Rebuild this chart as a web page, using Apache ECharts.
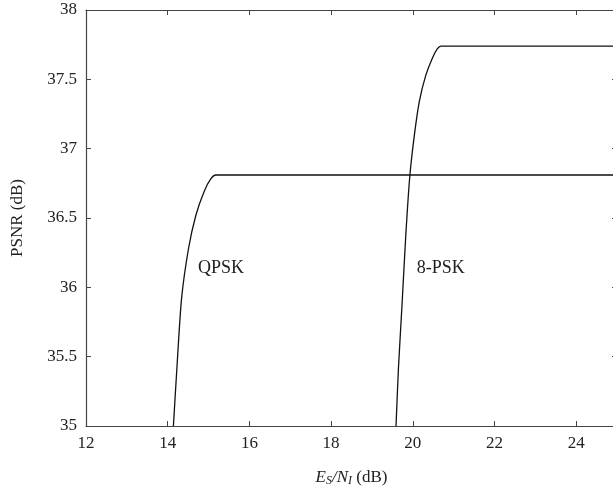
<!DOCTYPE html>
<html>
<head>
<meta charset="utf-8">
<script src="https://cdn.jsdelivr.net/npm/echarts@6/dist/echarts.min.js"></script>
<style>
  html, body { margin: 0; padding: 0; background: #fff; }
  #chart { width: 613px; height: 492px; }
</style>
</head>
<body>
<div id="chart"></div>
<script>
// QPSK curve, [Es/NI, PSNR]
var qpsk = [
  [14.14, 35.0], [14.23, 35.44], [14.34, 35.92], [14.51, 36.28],
  [14.69, 36.52], [14.89, 36.69], [15.05, 36.78], [15.18, 36.81], [25, 36.81]
];
// 8-PSK curve
var psk8 = [
  [19.59, 35.0], [19.65, 35.42], [19.74, 35.89], [19.83, 36.38],
  [19.93, 36.81], [20.04, 37.10], [20.16, 37.34], [20.32, 37.53],
  [20.49, 37.66], [20.60, 37.72], [20.69, 37.74], [25, 37.74]
];
// text labels on the curves
var curveLabels = [
  { name: 'QPSK', coord: [14.74, 36.14] },
  { name: '8-PSK', coord: [20.1, 36.14] }
];

var font = "'Liberation Serif', 'DejaVu Serif', serif";
var axisColor = '#444';
var textColor = '#222';

var chart = echarts.init(document.getElementById('chart'));

var mainX = {
  type: 'value', min: 12, max: 25, interval: 2,
  axisLine: { lineStyle: { color: axisColor, width: 1.2 } },
  axisTick: { inside: true, length: 5, lineStyle: { color: axisColor } },
  axisLabel: { fontFamily: font, fontSize: 17, color: textColor, margin: 9,
    formatter: function (v) { return v === 25 ? '' : v; } },
  splitLine: { show: false },
  name: '{i|E}{s|S}{i|/N}{s|I} (dB)',
  nameLocation: 'middle', nameGap: 42,
  nameTextStyle: {
    fontFamily: font, fontSize: 17, color: textColor,
    rich: {
      i: { fontFamily: font, fontSize: 17, fontStyle: 'italic', color: textColor },
      s: { fontFamily: font, fontSize: 12, fontStyle: 'italic', color: textColor, verticalAlign: 'bottom', padding: [7, 0, 0, 0] }
    }
  }
};
var mainY = {
  type: 'value', min: 35, max: 38, interval: 0.5,
  axisLine: { lineStyle: { color: axisColor, width: 1.2 } },
  axisTick: { inside: true, length: 5, lineStyle: { color: axisColor } },
  axisLabel: { fontFamily: font, fontSize: 17, color: textColor, margin: 9 },
  splitLine: { show: false },
  name: 'PSNR (dB)', nameLocation: 'middle', nameGap: 60, nameRotate: 90,
  nameTextStyle: { fontFamily: font, fontSize: 17, color: textColor }
};

chart.setOption({
  animation: false,
  backgroundColor: '#fff',
  grid: { left: 86, width: 531, top: 10, height: 416, outerBoundsMode: 'none', containLabel: false },
  xAxis: [
    mainX,
    { type: 'value', min: 12, max: 25, interval: 2, position: 'top',
      axisLine: { show: true, lineStyle: { color: axisColor, width: 1.2 } },
      axisTick: { show: true, inside: true, length: 5, lineStyle: { color: axisColor } },
      axisLabel: { show: false }, splitLine: { show: false } }
  ],
  yAxis: [
    mainY,
    { type: 'value', min: 35, max: 38, interval: 0.5, position: 'right',
      axisLine: { show: true, lineStyle: { color: axisColor, width: 1.2 } },
      axisTick: { show: true, inside: true, length: 5, lineStyle: { color: axisColor } },
      axisLabel: { show: false }, splitLine: { show: false } }
  ],
  series: [
    {
      name: 'QPSK', type: 'line', data: qpsk, smooth: 0.25, showSymbol: false,
      lineStyle: { color: '#111', width: 1.3 },
      markPoint: {
        symbol: 'circle', symbolSize: 0,
        label: { show: true, formatter: '{b}', fontFamily: font, fontSize: 18, color: textColor, position: 'right', distance: 0 },
        data: [curveLabels[0]]
      }
    },
    {
      name: '8-PSK', type: 'line', data: psk8, smooth: 0.25, showSymbol: false,
      lineStyle: { color: '#111', width: 1.3 },
      markPoint: {
        symbol: 'circle', symbolSize: 0,
        label: { show: true, formatter: '{b}', fontFamily: font, fontSize: 18, color: textColor, position: 'right', distance: 0 },
        data: [curveLabels[1]]
      }
    }
  ]
});
</script>
</body>
</html>
